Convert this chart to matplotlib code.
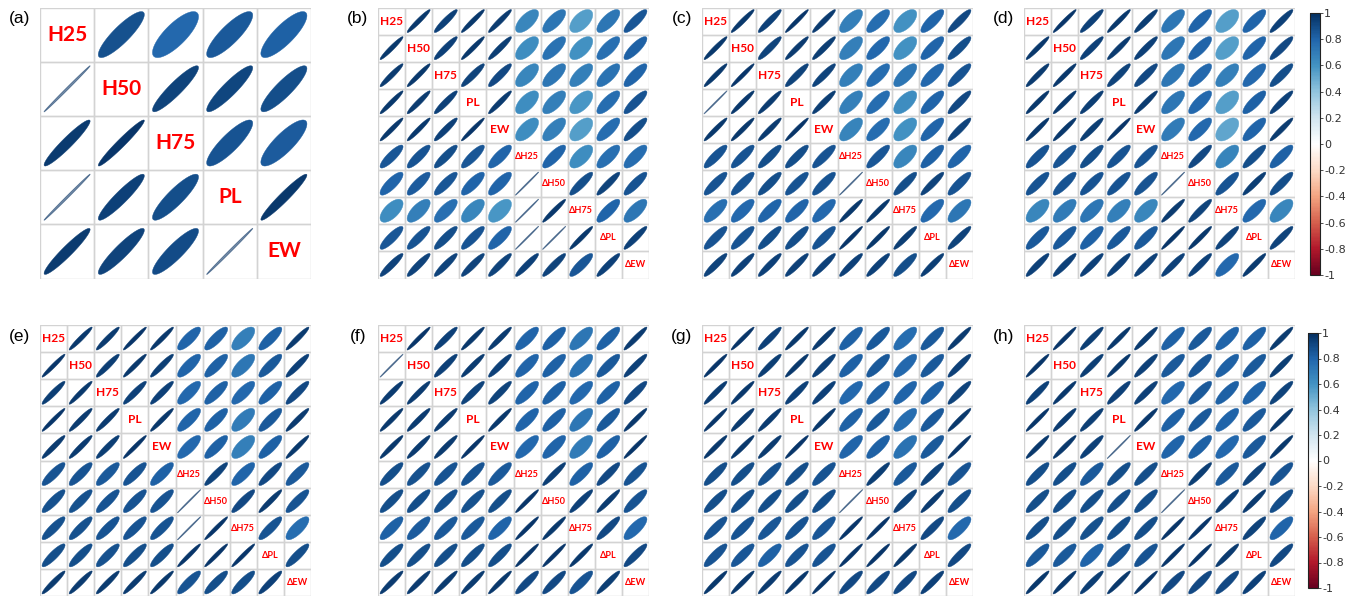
import numpy as np
import matplotlib.pyplot as plt
from matplotlib.colors import LinearSegmentedColormap, Normalize
from matplotlib.patches import Polygon, Rectangle
import matplotlib.cm as cm

W, H = 1346, 596

labels_a = ['H25', 'H50', 'H75', 'PL', 'EW']
labels = ['H25', 'H50', 'H75', 'PL', 'EW', 'ΔH25', 'ΔH50', 'ΔH75', 'ΔPL', 'ΔEW']
panel_tags = ['(a)', '(b)', '(c)', '(d)', '(e)', '(f)', '(g)', '(h)']
N = np.nan

corr_a = [
    [N, 0.87, 0.78, 0.84, 0.82],
    [0.998, N, 0.92, 0.91, 0.88],
    [0.95, 0.97, N, 0.86, 0.83],
    [0.998, 0.93, 0.88, N, 0.96],
    [0.95, 0.92, 0.89, 0.998, N],
]
corr_b = [
    [N, 0.96, 0.93, 0.96, 0.95, 0.65, 0.72, 0.55, 0.72, 0.85],
    [0.96, N, 0.93, 0.96, 0.94, 0.62, 0.74, 0.60, 0.75, 0.82],
    [0.95, 0.96, N, 0.92, 0.90, 0.65, 0.72, 0.68, 0.74, 0.80],
    [0.96, 0.95, 0.93, N, 0.95, 0.62, 0.68, 0.58, 0.76, 0.86],
    [0.96, 0.96, 0.93, 0.97, N, 0.62, 0.68, 0.55, 0.76, 0.88],
    [0.85, 0.86, 0.88, 0.85, 0.80, N, 0.80, 0.62, 0.75, 0.76],
    [0.80, 0.83, 0.85, 0.80, 0.80, 0.998, N, 0.88, 0.92, 0.86],
    [0.62, 0.68, 0.75, 0.65, 0.58, 0.998, 0.96, N, 0.80, 0.72],
    [0.85, 0.86, 0.88, 0.86, 0.80, 0.998, 0.998, 0.96, N, 0.93],
    [0.92, 0.92, 0.92, 0.92, 0.92, 0.93, 0.92, 0.85, 0.93, N],
]
corr_c = [
    [N, 0.96, 0.93, 0.97, 0.95, 0.68, 0.76, 0.60, 0.80, 0.90],
    [0.96, N, 0.92, 0.95, 0.94, 0.68, 0.78, 0.60, 0.80, 0.88],
    [0.96, 0.97, N, 0.92, 0.92, 0.68, 0.76, 0.72, 0.78, 0.86],
    [0.998, 0.96, 0.95, N, 0.94, 0.68, 0.76, 0.62, 0.80, 0.90],
    [0.96, 0.96, 0.95, 0.97, N, 0.66, 0.76, 0.60, 0.80, 0.92],
    [0.86, 0.86, 0.88, 0.88, 0.86, N, 0.85, 0.65, 0.82, 0.80],
    [0.86, 0.86, 0.88, 0.86, 0.86, 0.998, N, 0.88, 0.92, 0.86],
    [0.75, 0.78, 0.80, 0.80, 0.78, 0.96, 0.96, N, 0.78, 0.72],
    [0.86, 0.86, 0.88, 0.88, 0.86, 0.97, 0.96, 0.94, N, 0.92],
    [0.92, 0.93, 0.93, 0.93, 0.93, 0.93, 0.93, 0.88, 0.94, N],
]
corr_d = [
    [N, 0.97, 0.93, 0.96, 0.94, 0.72, 0.80, 0.55, 0.80, 0.93],
    [0.96, N, 0.93, 0.95, 0.93, 0.72, 0.80, 0.55, 0.80, 0.90],
    [0.95, 0.96, N, 0.92, 0.90, 0.72, 0.78, 0.68, 0.78, 0.88],
    [0.96, 0.96, 0.94, N, 0.95, 0.72, 0.78, 0.55, 0.82, 0.93],
    [0.96, 0.96, 0.94, 0.97, N, 0.70, 0.78, 0.52, 0.80, 0.95],
    [0.86, 0.86, 0.88, 0.86, 0.86, N, 0.90, 0.66, 0.88, 0.82],
    [0.86, 0.86, 0.86, 0.86, 0.86, 0.998, N, 0.86, 0.94, 0.88],
    [0.65, 0.70, 0.72, 0.68, 0.65, 0.95, 0.92, N, 0.78, 0.65],
    [0.84, 0.84, 0.82, 0.84, 0.84, 0.97, 0.96, 0.92, N, 0.92],
    [0.93, 0.93, 0.93, 0.93, 0.93, 0.93, 0.93, 0.78, 0.95, N],
]
corr_e = [
    [N, 0.96, 0.95, 0.97, 0.96, 0.80, 0.82, 0.68, 0.82, 0.95],
    [0.97, N, 0.94, 0.96, 0.94, 0.80, 0.82, 0.72, 0.84, 0.93],
    [0.94, 0.96, N, 0.93, 0.93, 0.78, 0.82, 0.78, 0.82, 0.90],
    [0.97, 0.95, 0.95, N, 0.96, 0.80, 0.82, 0.70, 0.84, 0.95],
    [0.95, 0.95, 0.94, 0.97, N, 0.78, 0.82, 0.68, 0.82, 0.96],
    [0.86, 0.86, 0.84, 0.86, 0.82, N, 0.92, 0.80, 0.90, 0.84],
    [0.87, 0.87, 0.86, 0.86, 0.86, 0.998, N, 0.90, 0.95, 0.86],
    [0.87, 0.87, 0.86, 0.86, 0.86, 0.998, 0.97, N, 0.86, 0.76],
    [0.88, 0.88, 0.87, 0.88, 0.88, 0.97, 0.97, 0.97, N, 0.88],
    [0.95, 0.95, 0.95, 0.95, 0.96, 0.86, 0.88, 0.88, 0.93, N],
]
corr_f = [
    [N, 0.97, 0.93, 0.96, 0.95, 0.80, 0.82, 0.72, 0.82, 0.95],
    [0.998, N, 0.93, 0.95, 0.93, 0.80, 0.82, 0.74, 0.84, 0.93],
    [0.95, 0.95, N, 0.92, 0.92, 0.80, 0.82, 0.78, 0.82, 0.90],
    [0.96, 0.95, 0.95, N, 0.96, 0.80, 0.82, 0.72, 0.84, 0.96],
    [0.96, 0.95, 0.95, 0.97, N, 0.78, 0.80, 0.70, 0.82, 0.97],
    [0.88, 0.87, 0.86, 0.86, 0.84, N, 0.94, 0.82, 0.90, 0.86],
    [0.88, 0.88, 0.87, 0.87, 0.88, 0.97, N, 0.93, 0.95, 0.86],
    [0.82, 0.83, 0.84, 0.84, 0.80, 0.97, 0.96, N, 0.90, 0.78],
    [0.88, 0.88, 0.88, 0.88, 0.88, 0.97, 0.97, 0.96, N, 0.90],
    [0.95, 0.95, 0.95, 0.95, 0.96, 0.90, 0.90, 0.86, 0.94, N],
]
corr_g = [
    [N, 0.97, 0.93, 0.96, 0.95, 0.82, 0.84, 0.76, 0.84, 0.95],
    [0.97, N, 0.94, 0.96, 0.93, 0.82, 0.84, 0.78, 0.84, 0.93],
    [0.95, 0.96, N, 0.93, 0.93, 0.78, 0.82, 0.80, 0.82, 0.92],
    [0.97, 0.95, 0.95, N, 0.96, 0.82, 0.84, 0.76, 0.84, 0.96],
    [0.96, 0.96, 0.95, 0.97, N, 0.80, 0.82, 0.74, 0.84, 0.97],
    [0.88, 0.88, 0.87, 0.88, 0.86, N, 0.94, 0.84, 0.92, 0.86],
    [0.88, 0.88, 0.88, 0.88, 0.88, 0.998, N, 0.92, 0.95, 0.88],
    [0.86, 0.86, 0.85, 0.86, 0.85, 0.97, 0.97, N, 0.90, 0.78],
    [0.86, 0.85, 0.82, 0.86, 0.86, 0.97, 0.97, 0.96, N, 0.90],
    [0.96, 0.96, 0.95, 0.96, 0.97, 0.90, 0.90, 0.90, 0.93, N],
]
corr_h = [
    [N, 0.97, 0.94, 0.96, 0.95, 0.82, 0.84, 0.80, 0.82, 0.95],
    [0.97, N, 0.94, 0.96, 0.93, 0.84, 0.85, 0.82, 0.84, 0.94],
    [0.93, 0.96, N, 0.93, 0.93, 0.78, 0.84, 0.82, 0.80, 0.92],
    [0.97, 0.95, 0.94, N, 0.96, 0.82, 0.84, 0.80, 0.84, 0.96],
    [0.96, 0.96, 0.93, 0.998, N, 0.80, 0.82, 0.78, 0.84, 0.96],
    [0.88, 0.88, 0.84, 0.88, 0.88, N, 0.94, 0.84, 0.92, 0.86],
    [0.88, 0.88, 0.88, 0.88, 0.88, 0.998, N, 0.94, 0.95, 0.88],
    [0.88, 0.88, 0.87, 0.88, 0.88, 0.97, 0.97, N, 0.92, 0.80],
    [0.84, 0.84, 0.80, 0.86, 0.86, 0.97, 0.97, 0.95, N, 0.90],
    [0.96, 0.96, 0.94, 0.96, 0.97, 0.90, 0.90, 0.90, 0.93, N],
]

# corrplot's RdBu palette
rdbu = ['#67001F', '#B2182B', '#D6604D', '#F4A582', '#FDDBC7', '#FFFFFF',
        '#D1E5F0', '#92C5DE', '#4393C3', '#2166AC', '#053061']
cmap = LinearSegmentedColormap.from_list('corr', rdbu, N=200)
norm = Normalize(-1, 1)

fig = plt.figure(figsize=(W / 100, H / 100), dpi=100)


def px_axes(x0, y0, w, h):
    return fig.add_axes([x0 / W, 1 - (y0 + h) / H, w / W, h / H])


def draw_corr(ax, mat, names, big=False):
    mat = np.array(mat, dtype=float)
    n = len(names)
    ax.set_xlim(0, n); ax.set_ylim(n, 0)
    ax.set_axis_off()
    t = np.linspace(0, 2 * np.pi, 80)
    for i in range(n):
        for j in range(n):
            ax.add_patch(Rectangle((j, i), 1, 1, fill=False, edgecolor='#d3d3d3', lw=1.0))
            if i == j:
                nm = names[i]
                if big:
                    fs = 15
                else:
                    fs = 6.6 if nm.startswith('Δ') else 8.6
                ax.text(j + 0.5, i + 0.5, nm, ha='center', va='center', color='red',
                        fontsize=fs, fontweight='bold', family=['Lato', 'DejaVu Sans'])
                continue
            r = mat[i, j]
            d = np.arccos(r)
            x = j + 0.5 + 0.85 * np.cos(t + d / 2) / 2
            y = i + 0.5 - 0.85 * np.cos(t - d / 2) / 2
            c = cmap(norm(r))
            thin = r > 0.99
            ax.add_patch(Polygon(np.column_stack([x, y]), closed=True, facecolor=c,
                                 edgecolor=c, lw=0.6 if thin else 0.3,
                                 alpha=0.55 if thin else 1.0))


mats = [corr_a, corr_b, corr_c, corr_d, corr_e, corr_f, corr_g, corr_h]
grid_x = [40, 378, 702, 1024]
grid_y = [7.5, 325]
size = 271

for k, mat in enumerate(mats):
    row, col = divmod(k, 4)
    ax = px_axes(grid_x[col], grid_y[row], size, size)
    draw_corr(ax, mat, labels_a if k == 0 else labels, big=(k == 0))
    fig.text((grid_x[col] - 20) / W, 1 - (grid_y[row] + 11) / H, panel_tags[k],
             ha='center', va='center', fontsize=12.5, family='Liberation Sans')

# colour bars
sm = cm.ScalarMappable(norm=norm, cmap=cmap)
for (cx, cy, ch) in [(1310, 13, 262), (1308, 333, 255)]:
    cax = px_axes(cx, cy, 10, ch)
    cb = fig.colorbar(sm, cax=cax)
    cb.set_ticks(np.round(np.arange(-1, 1.01, 0.2), 1))
    cb.set_ticklabels(['-1', '-0.8', '-0.6', '-0.4', '-0.2', '0', '0.2', '0.4', '0.6', '0.8', '1'])
    cb.outline.set_linewidth(0.8)
    cb.outline.set_edgecolor('#222222')
    cax.tick_params(length=2.5, width=0.6, pad=0.5, labelsize=8, colors='#333333')

fig.savefig('out.png', dpi=100)
plt.close(fig)
